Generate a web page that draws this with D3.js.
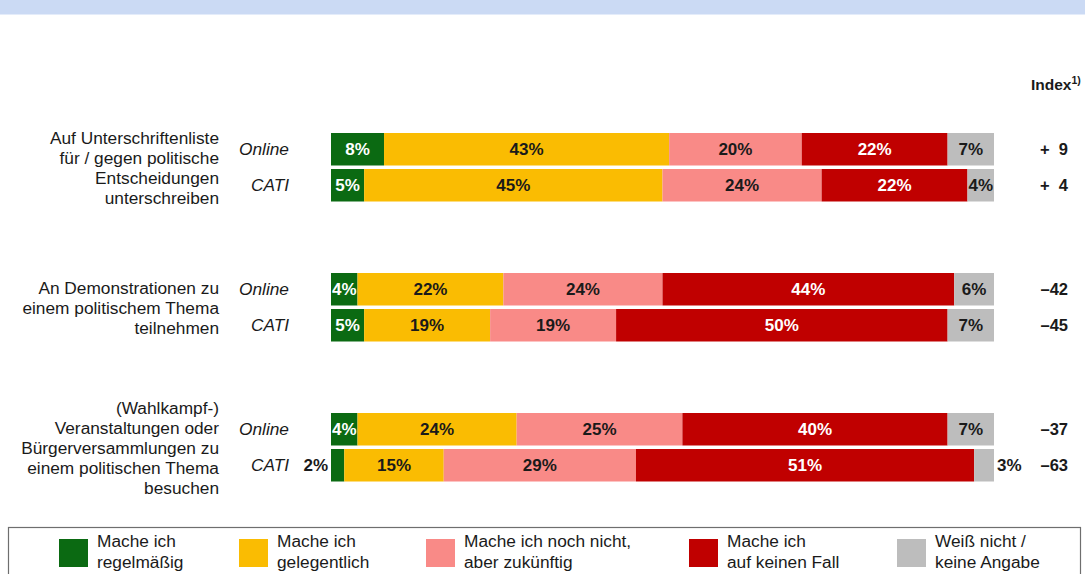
<!DOCTYPE html>
<html>
<head>
<meta charset="utf-8">
<script src="https://cdn.jsdelivr.net/npm/d3@7"></script>
<style>
  html, body { margin: 0; padding: 0; background: #fff; }
  svg { display: block; font-family: "Liberation Sans", Arial, sans-serif; }
  .idx { white-space: pre; }
</style>
</head>
<body>
<svg id="chart" width="1085" height="574"></svg>
<script>
// ---------- DATA ----------
const categoryLines = [
  ["Auf Unterschriftenliste", "für / gegen politische", "Entscheidungen", "unterschreiben"],
  ["An Demonstrationen zu", "einem politischem Thema", "teilnehmen"],
  ["(Wahlkampf-)", "Veranstaltungen oder", "Bürgerversammlungen zu", "einem politischen Thema", "besuchen"]
];
const modes = ["Online", "CATI"];
const seriesNames = [
  ["Mache ich", "regelmäßig"],
  ["Mache ich", "gelegentlich"],
  ["Mache ich noch nicht,", "aber zukünftig"],
  ["Mache ich", "auf keinen Fall"],
  ["Weiß nicht /", "keine Angabe"]
];
const onlineValues = [
  [8, 43, 20, 22, 7],
  [4, 22, 24, 44, 6],
  [4, 24, 25, 40, 7]
];
const catiValues = [
  [5, 45, 24, 22, 4],
  [5, 19, 19, 50, 7],
  [2, 15, 29, 51, 3]
];
const indexLabels = [
  ["+  9", "+  4"],
  ["–42", "–45"],
  ["–37", "–63"]
];
const indexTitle = "Index";
const indexSup = "1)";

// ---------- STYLE ----------
const colors = ["#0b6a12", "#fabc02", "#f98a87", "#c00000", "#bdbdbd"];
const labelColors = ["#ffffff", "#1a1a1a", "#1a1a1a", "#ffffff", "#1a1a1a"];
const textSize = 17.3;
const valSize = 17;

const svg = d3.select("#chart");

// top band
svg.append("rect").attr("x", 0).attr("y", 0).attr("width", 1085).attr("height", 14).attr("fill", "#cbdaf4");
svg.append("rect").attr("x", 0).attr("y", 14).attr("width", 1085).attr("height", 1).attr("fill", "#e4ecfa");

// scales
const x = d3.scaleLinear().domain([0, 100]).range([331, 994]);
const gy = d3.scalePoint().domain(d3.range(categoryLines.length)).range([133, 413]);
const barH = 32.5;
const rowStep = 36;
const lineH = 20;

const groups = categoryLines.map((lines, i) => ({
  i, lines,
  rows: [onlineValues[i], catiValues[i]].map((vals, r) => {
    let cum = 0;
    return {
      r, mode: modes[r], index: indexLabels[i][r],
      segs: vals.map((v, k) => { const s = { k, v, x0: cum, x1: cum + v, n: vals.length }; cum += v; return s; })
    };
  })
}));

const g = svg.selectAll("g.group").data(groups).join("g").attr("class", "group");

// category labels
g.each(function(d) {
  const sel = d3.select(this);
  const cy = gy(d.i) + (rowStep + barH) / 2 + 1;
  const n = d.lines.length;
  sel.selectAll("text.cat").data(d.lines).join("text")
    .attr("class", "cat")
    .attr("x", 219)
    .attr("y", (t, j) => cy + (j - (n - 1) / 2) * lineH)
    .attr("dy", "0.35em")
    .attr("text-anchor", "end")
    .attr("font-size", textSize)
    .attr("fill", "#1a1a1a")
    .text(t => t);
});

const rows = g.selectAll("g.row").data(d => d.rows.map(r => Object.assign({ gi: d.i }, r))).join("g").attr("class", "row")
  .attr("transform", d => `translate(0,${gy(d.gi) + d.r * rowStep})`);

// mode labels
rows.append("text")
  .attr("x", 289).attr("y", barH / 2).attr("dy", "0.35em")
  .attr("text-anchor", "end").attr("font-size", textSize).attr("font-style", "italic")
  .attr("fill", "#1a1a1a")
  .text(d => d.mode);

// bars
rows.selectAll("rect.seg").data(d => d.segs).join("rect")
  .attr("class", "seg")
  .attr("x", s => x(s.x0))
  .attr("width", s => x(s.x1) - x(s.x0))
  .attr("y", 0)
  .attr("height", barH)
  .attr("fill", s => colors[s.k]);

// value labels
rows.selectAll("text.val").data(d => d.segs).join("text")
  .attr("class", "val")
  .attr("x", s => {
    if (s.v < 4) return s.k === 0 ? x(s.x0) - 3 : x(s.x1) + 3;
    return (x(s.x0) + x(s.x1)) / 2;
  })
  .attr("y", barH / 2).attr("dy", "0.35em")
  .attr("text-anchor", s => s.v < 4 ? (s.k === 0 ? "end" : "start") : "middle")
  .attr("font-size", valSize).attr("font-weight", "bold")
  .attr("fill", s => s.v < 4 ? "#1a1a1a" : labelColors[s.k])
  .text(s => s.v + "%");

// index values
rows.append("text")
  .attr("class", "idx")
  .attr("x", 1068).attr("y", barH / 2).attr("dy", "0.35em")
  .attr("text-anchor", "end").attr("font-size", 16.5).attr("font-weight", "bold")
  .attr("fill", "#1a1a1a")
  .text(d => d.index);

// index header
const ih = svg.append("text").attr("x", 1031).attr("y", 90)
  .attr("font-size", 15.5).attr("font-weight", "bold").attr("fill", "#1a1a1a");
ih.append("tspan").text(indexTitle);
ih.append("tspan").attr("font-size", 10.5).attr("dy", -6).text(indexSup);

// legend
svg.append("rect").attr("x", 8.5).attr("y", 527.5).attr("width", 1072).attr("height", 60)
  .attr("fill", "#fff").attr("stroke", "#6e6e6e").attr("stroke-width", 1.2);
const legendX = [59, 239, 426, 689, 897];
const lg = svg.selectAll("g.leg").data(seriesNames).join("g").attr("class", "leg")
  .attr("transform", (d, k) => `translate(${legendX[k]},539)`);
lg.append("rect").attr("width", 29).attr("height", 28).attr("fill", (d, k) => colors[k]);
lg.selectAll("text").data(d => d).join("text")
  .attr("x", 38).attr("y", (t, j) => 2 + j * 20.5).attr("dy", "0.35em")
  .attr("font-size", textSize).attr("fill", "#1a1a1a")
  .text(t => t);
</script>
</body>
</html>
